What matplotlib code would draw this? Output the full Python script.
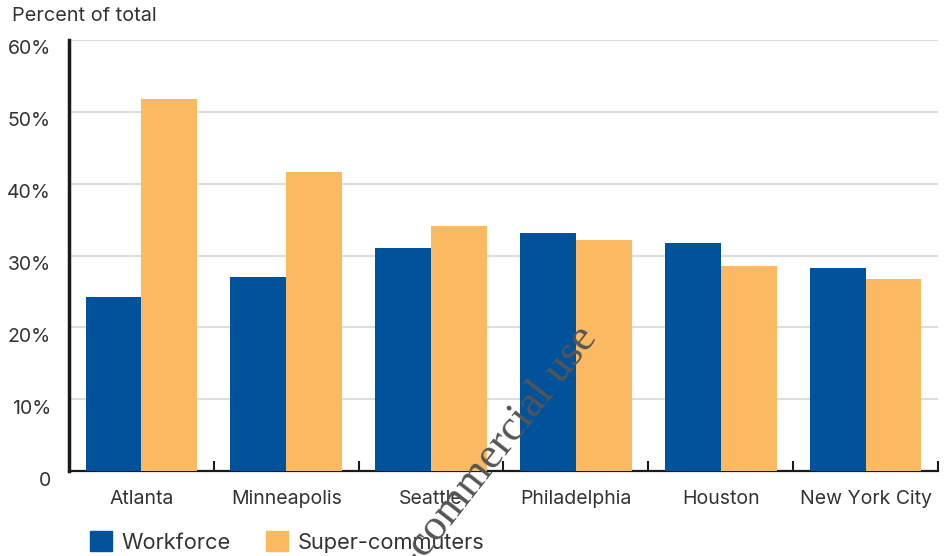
import numpy as np
import matplotlib
matplotlib.use("Agg")
import matplotlib.pyplot as plt
from matplotlib.patches import Patch
from matplotlib.transforms import ScaledTranslation

plt.rcParams['font.family'] = ['Inter', 'DejaVu Sans']

# données
cities = ["Atlanta", "Minneapolis", "Seattle", "Philadelphia", "Houston", "New York City"]
workforce = [24.2, 27.0, 31.0, 33.1, 31.7, 28.2]
super_commuters = [51.8, 41.6, 34.1, 32.1, 28.5, 26.7]
yticks = [0, 10, 20, 30, 40, 50, 60]
ylabels = ["0", "10%", "20%", "30%", "40%", "50%", "60%"]

blue = "#00539b"
orange = "#fbb962"
txt = "#333333"

fig = plt.figure(figsize=(9.44, 5.56), dpi=100)
ax = fig.add_axes([69/944, 1 - 471/556, (938 - 69)/944, (471 - 40)/556])

x = np.arange(len(cities))
w = 0.386
ax.bar(x - w/2, workforce, w, color=blue, zorder=3)
ax.bar(x + w/2, super_commuters, w, color=orange, zorder=3)

ax.set_xlim(-0.5, len(cities) - 0.5)
ax.set_ylim(0, 60)
ax.set_yticks(yticks)
ax.set_yticklabels(ylabels)
ax.set_xticks(x)
ax.set_xticklabels(cities)
ax.set_xticks(np.arange(len(cities)) + 0.5, minor=True)

ax.grid(axis="y", color="#dddddd", lw=1.5, zorder=0)
for s in ["top", "right"]:
    ax.spines[s].set_visible(False)
ax.spines["left"].set_linewidth(2.5)
ax.spines["bottom"].set_linewidth(1.6)
ax.spines["left"].set_color("#1a1a1a")
ax.spines["bottom"].set_color("#1a1a1a")

ax.tick_params(axis="x", which="major", length=0, pad=14, labelsize=14, labelcolor=txt)
ax.tick_params(axis="x", which="minor", direction="in", length=7, width=1.5, color="#1a1a1a")
ax.tick_params(axis="y", length=0, pad=13, labelsize=14, labelcolor=txt)
for lab in ax.get_yticklabels():
    lab.set_transform(lab.get_transform() + ScaledTranslation(0, -0.075, fig.dpi_scale_trans))

fig.text(12/944, 1 - 16/556, "Percent of total", fontsize=14.3, color=txt, va="center", ha="left")

handles = [Patch(color=blue, label="Workforce"), Patch(color=orange, label="Super-commuters")]
fig.legend(handles=handles, loc="center left", bbox_to_anchor=(90/944, 1 - 542/556),
           ncol=2, frameon=False, fontsize=15.7, handlelength=1.0, handleheight=1.0,
           handletextpad=0.45, columnspacing=1.6, labelcolor=txt, borderaxespad=0, borderpad=0)

# filigrane
fig.text(598/944, 1 - 338/556, "For non-commercial use", rotation=52, rotation_mode="anchor",
         ha="right", va="baseline", fontsize=32, color="#555555",
         family=["Liberation Serif", "DejaVu Serif"], zorder=10)

fig.savefig("out.png", dpi=100)
